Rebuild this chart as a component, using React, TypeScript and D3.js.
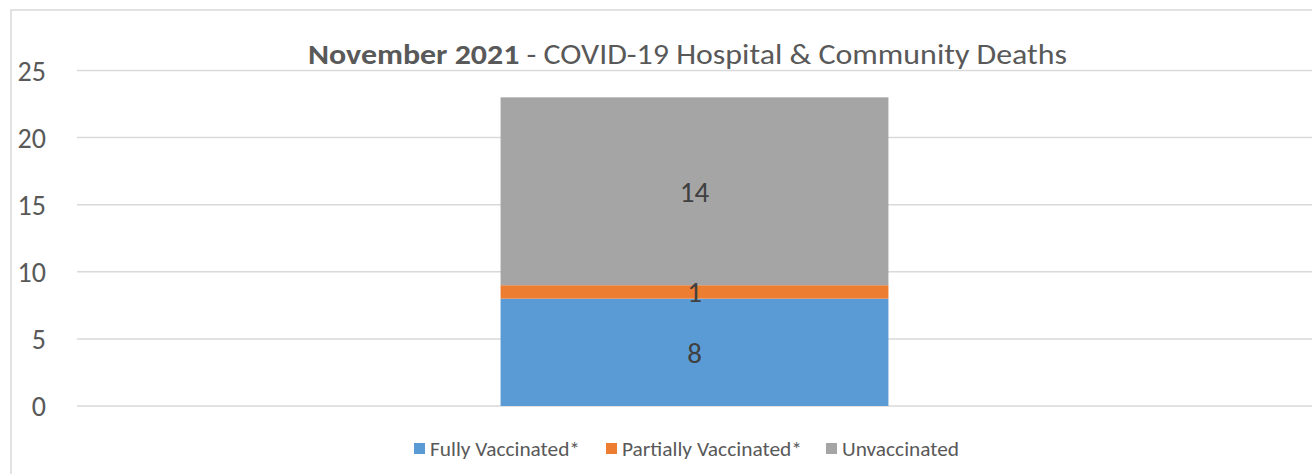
import React from 'react';
import {scaleLinear, scaleBand} from 'd3';

const categories = ['November 2021'];
const seriesNames = ['Fully Vaccinated*', 'Partially Vaccinated*', 'Unvaccinated'];
const fullyVaccinated = [8];
const partiallyVaccinated = [1];
const unvaccinated = [14];
const yTicks = [0, 5, 10, 15, 20, 25];
const colors = ['#5B9BD5', '#ED7D31', '#A5A5A5'];

const W = 1312;
const H = 474;
const font = "Carlito, Calibri, 'Open Sans', sans-serif";

const App = () => {
    const yScale = scaleLinear().domain([0, 25]).range([406, 70.5]);
    const xScale = scaleBand().domain(categories).range([77, W]).paddingInner(0.522).paddingOuter(0.522);

    const series = [fullyVaccinated, partiallyVaccinated, unvaccinated];
    // stack the segments by hand, one category only
    const stacks = categories.map((c, i) => {
        let base = 0;
        return series.map((s, k) => {
            const seg = {cat: c, k, y0: base, y1: base + s[i], v: s[i]};
            base += s[i];
            return seg;
        });
    });

    const legendX = [414, 606, 826];
    const legendW = [150, 180, 117];

    return (
        <svg width={W} height={H} style={{position: 'absolute', left: 0, top: 0}} fontFamily={font}>
            <rect x={0} y={0} width={W} height={H} fill="#fff" />
            <rect x={11} y={10} width={W + 20} height={H + 20} fill="none" stroke="#D9D9D9" strokeWidth={1.5} />

            {yTicks.map(t => (
                <g key={t}>
                    <line x1={77} x2={W} y1={yScale(t)} y2={yScale(t)} stroke="#D9D9D9" strokeWidth={1.5} />
                    <text x={46} y={yScale(t)} dy="0.36em" textAnchor="end" fontSize={28} fill="#595959">{t}</text>
                </g>
            ))}

            {stacks.map(st => st.map(seg => (
                <rect key={seg.cat + seg.k}
                    x={xScale(seg.cat)}
                    width={xScale.bandwidth()}
                    y={yScale(seg.y1)}
                    height={yScale(seg.y0) - yScale(seg.y1)}
                    fill={colors[seg.k]} />
            )))}

            {stacks.map(st => st.map(seg => (
                <text key={'l' + seg.cat + seg.k}
                    x={(xScale(seg.cat) as number) + xScale.bandwidth() / 2}
                    y={yScale((seg.y0 + seg.y1) / 2)}
                    dy="0.36em" textAnchor="middle" fontSize={29} fill="#404040">{seg.v}</text>
            )))}

            <text x={308} y={64} fontSize={28} fill="#595959" textLength={759} lengthAdjust="spacingAndGlyphs">
                <tspan fontWeight="bold">November 2021</tspan>
                <tspan> - COVID-19 Hospital &amp; Community Deaths</tspan>
            </text>

            {seriesNames.map((n, k) => (
                <g key={n}>
                    <rect x={legendX[k]} y={443} width={11} height={11} fill={colors[k]} />
                    <text x={legendX[k] + 16} y={448.5} dy="0.36em" fontSize={20} fill="#595959"
                        textLength={legendW[k]} lengthAdjust="spacingAndGlyphs">{n}</text>
                </g>
            ))}
        </svg>
    );
};

export default App;
